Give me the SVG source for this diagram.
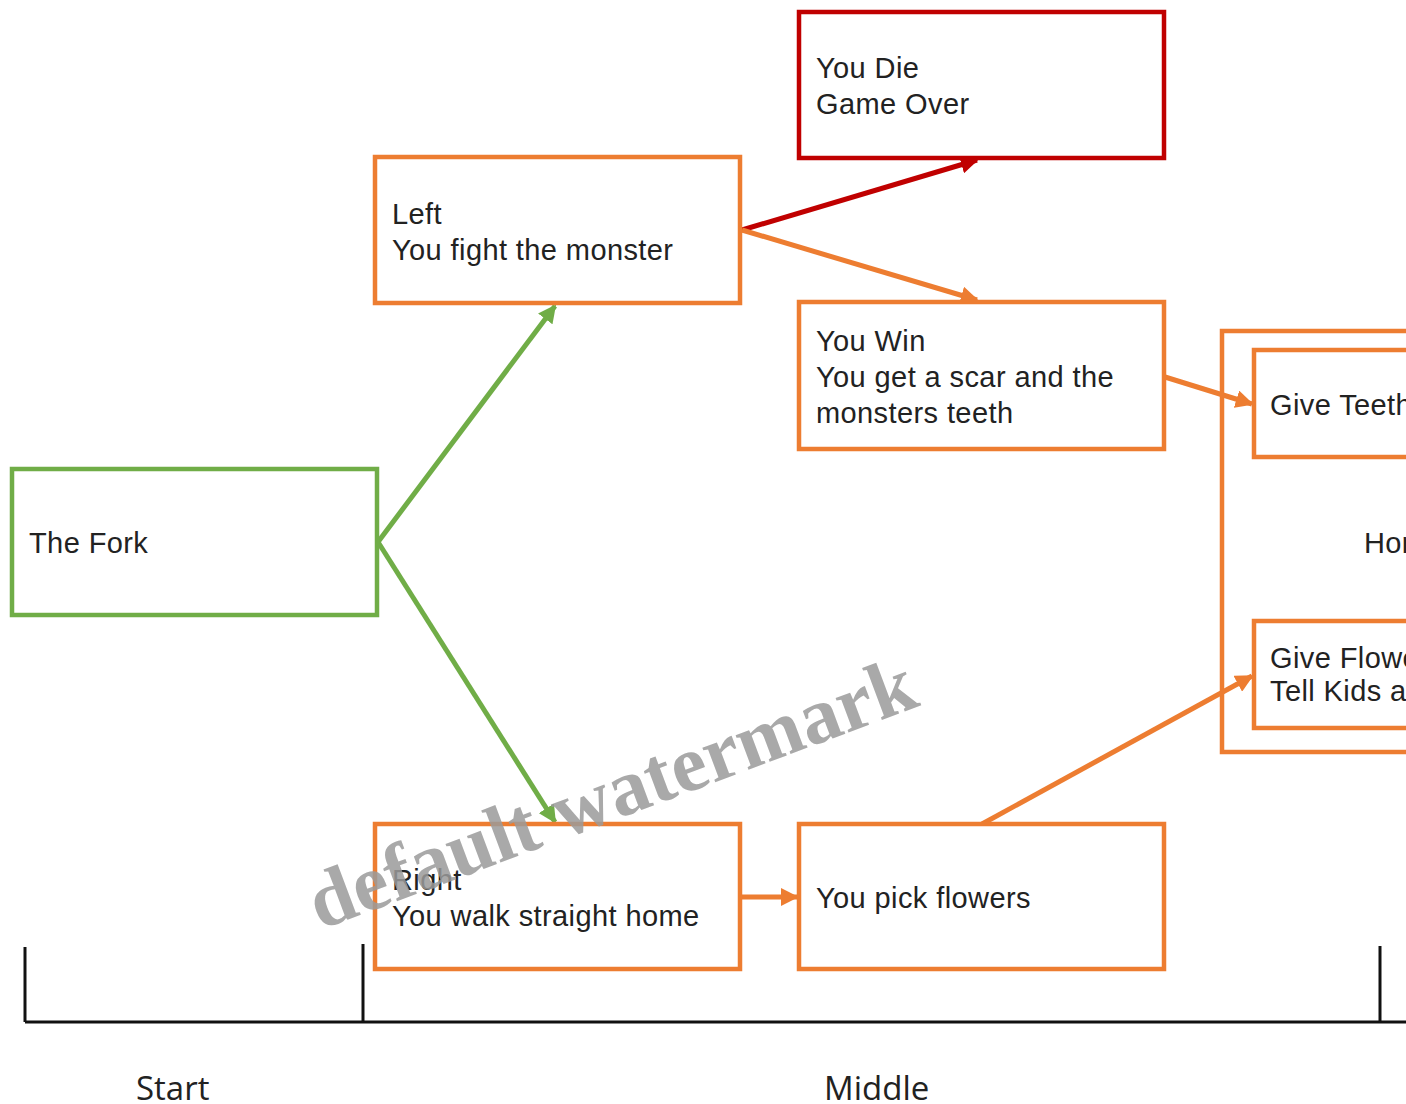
<svg xmlns="http://www.w3.org/2000/svg" width="1406" height="1104" viewBox="0 0 1406 1104">
<defs>
<style>
.box{fill:#fff;stroke-width:4.5}
.g{stroke:#70AD47}
.o{stroke:#ED7D31}
.r{stroke:#C00000}
.t{font-family:"Liberation Sans",Arial,sans-serif;font-size:29px;letter-spacing:0.4px;fill:#222}
.c{fill:none;stroke-width:5}
.tl{stroke:#111;stroke-width:3;fill:none}
.lbl{font-family:"Open Sans","DejaVu Sans",sans-serif;font-size:33px;fill:#222}
</style>
<marker id="ag" viewBox="0 0 10 10" refX="9" refY="5" markerWidth="3.6" markerHeight="3.6" orient="auto" markerUnits="strokeWidth"><path d="M0,0 L10,5 L0,10 z" fill="#70AD47"/></marker>
<marker id="ao" viewBox="0 0 10 10" refX="9" refY="5" markerWidth="3.6" markerHeight="3.6" orient="auto" markerUnits="strokeWidth"><path d="M0,0 L10,5 L0,10 z" fill="#ED7D31"/></marker>
<marker id="ar" viewBox="0 0 10 10" refX="9" refY="5" markerWidth="3.6" markerHeight="3.6" orient="auto" markerUnits="strokeWidth"><path d="M0,0 L10,5 L0,10 z" fill="#C00000"/></marker>
</defs>
<rect width="1406" height="1104" fill="#fff"/>

<g id="home">
<rect class="box o" x="1222" y="331" width="200" height="421"/>
<text class="t" x="1364" y="553">Hor</text>
</g>

<g id="connectors">
<line class="c g" x1="378" y1="542" x2="555" y2="306" marker-end="url(#ag)"/>
<line class="c g" x1="378" y1="542" x2="555" y2="822" marker-end="url(#ag)"/>
<line class="c r" x1="742" y1="230" x2="977" y2="160" marker-end="url(#ar)"/>
<line class="c o" x1="742" y1="230" x2="977" y2="300" marker-end="url(#ao)"/>
<line class="c o" x1="1165" y1="377" x2="1252" y2="404" marker-end="url(#ao)"/>
<line class="c o" x1="740" y1="897" x2="797" y2="897" marker-end="url(#ao)"/>
<line class="c o" x1="982" y1="824" x2="1252" y2="676" marker-end="url(#ao)"/>
</g>

<g id="fork">
<rect class="box g" x="12" y="469" width="365" height="146"/>
<text class="t" x="29" y="553">The Fork</text>
</g>
<g id="left">
<rect class="box o" x="375" y="157" width="365" height="146"/>
<text class="t" x="392" y="224">Left</text>
<text class="t" x="392" y="260">You fight the monster</text>
</g>
<g id="die">
<rect class="box r" x="799" y="12" width="365" height="146"/>
<text class="t" x="816" y="78">You Die</text>
<text class="t" x="816" y="114">Game Over</text>
</g>
<g id="win">
<rect class="box o" x="799" y="302" width="365" height="147"/>
<text class="t" x="816" y="351">You Win</text>
<text class="t" x="816" y="387">You get a scar and the</text>
<text class="t" x="816" y="423">monsters teeth</text>
</g>
<g id="teeth">
<rect class="box o" x="1254" y="350" width="180" height="107"/>
<text class="t" x="1270" y="415">Give Teeth</text>
</g>
<g id="flowers">
<rect class="box o" x="1254" y="621" width="180" height="107"/>
<text class="t" x="1270" y="668">Give Flowe</text>
<text class="t" x="1270" y="701">Tell Kids a</text>
</g>
<g id="right">
<rect class="box o" x="375" y="824" width="365" height="145"/>
<text class="t" x="392" y="890">Right</text>
<text class="t" x="392" y="926">You walk straight home</text>
</g>
<g id="pick">
<rect class="box o" x="799" y="824" width="365" height="145"/>
<text class="t" x="816" y="908">You pick flowers</text>
</g>

<g id="timeline">
<line class="tl" x1="25" y1="1022" x2="1406" y2="1022"/>
<line class="tl" x1="25" y1="947" x2="25" y2="1022"/>
<line class="tl" x1="363" y1="944" x2="363" y2="1022"/>
<line class="tl" x1="1380" y1="946" x2="1380" y2="1022"/>
<text class="lbl" x="136" y="1100">Start</text>
<text class="lbl" x="824" y="1100">Middle</text>
</g>

<text x="0" y="0" transform="translate(320,930) rotate(-20.5)" font-family="Liberation Serif,serif" font-weight="bold" font-size="80" fill="#9a9a9a" fill-opacity="0.85">default watermark</text>
</svg>
